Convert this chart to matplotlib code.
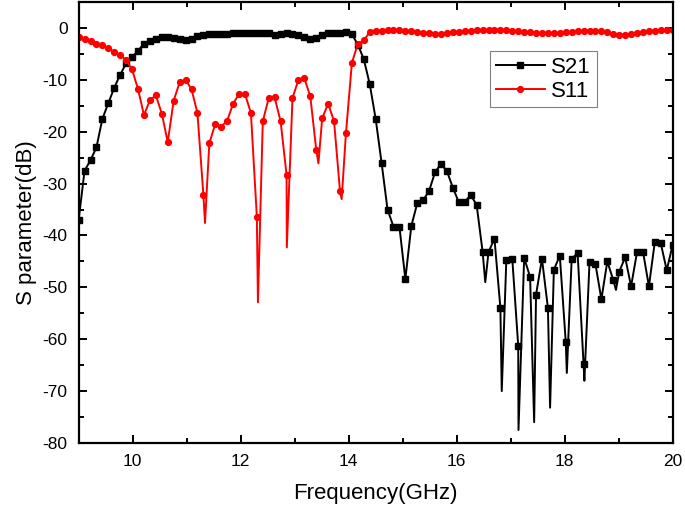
import numpy as np
import matplotlib
matplotlib.use('Agg')
import matplotlib.pyplot as plt
from matplotlib.ticker import MultipleLocator

plt.rcParams['font.family'] = ['Liberation Sans', 'DejaVu Sans']
plt.rcParams['axes.unicode_minus'] = False

# frequency of each measured point (GHz)
freq = np.round(np.linspace(9, 20, 101), 2)

s21 = [-37, -27.5, -25.5, -23, -17.5, -14.5, -11.5, -9, -6.8, -5.6,
       -4.4, -3, -2.6, -2.2, -1.8, -1.7, -1.9, -2.1, -2.3, -2.2,
       -1.6, -1.3, -1.2, -1.2, -1.1, -1.1, -1.0, -1.0, -0.9, -0.9,
       -0.9, -0.9, -1.0, -1.3, -1.2, -0.9, -1.1, -1.4, -1.8, -2.2,
       -1.9, -1.3, -1.0, -1.0, -0.9, -0.7, -1.2, -3.2, -6, -10.8,
       -17.5, -26, -35, -38.3, -38.3, -48.4, -38.2, -33.8, -33.2, -31.4,
       -27.8, -26.2, -27.6, -30.8, -33.6, -33.5, -32.2, -34.1, -43.1, -43.2,
       -40.6, -54, -44.7, -44.5, -61.3, -44.3, -48, -51.4, -44.5, -54,
       -46.6, -43.9, -60.5, -44.5, -43.4, -64.8, -45.2, -45.5, -52.3, -45,
       -48.6, -47, -44.2, -49.8, -43.2, -43.1, -49.8, -41.2, -41.5, -46.7,
       -41.8]

s11 = [-1.7, -2.2, -2.6, -3.0, -3.3, -3.9, -4.6, -5.2, -6.2, -8.0,
       -11.8, -16.8, -13.9, -13.0, -16.5, -22.0, -14.0, -10.5, -10.0, -11.8,
       -16.4, -32.2, -22.2, -18.5, -19.0, -17.9, -14.6, -12.7, -12.7, -16.4,
       -36.4, -18.0, -13.5, -13.4, -18.0, -28.3, -13.5, -10.0, -9.7, -13.2,
       -23.5, -17.4, -14.6, -18.0, -31.5, -20.3, -6.7, -3.1, -2.4, -0.8,
       -0.6, -0.5, -0.45, -0.4, -0.4, -0.5, -0.6, -0.8, -0.9, -1.0,
       -1.1, -1.2, -1.0, -0.8, -0.7, -0.6, -0.5, -0.45, -0.4, -0.35,
       -0.3, -0.35, -0.4, -0.5, -0.6, -0.7, -0.8, -0.9, -1.0, -1.0,
       -1.0, -0.9, -0.8, -0.7, -0.6, -0.55, -0.5, -0.5, -0.6, -0.8,
       -1.1, -1.3, -1.3, -1.1, -0.9, -0.7, -0.6, -0.5, -0.4, -0.3,
       -0.3]

# sharp resonance minima that fall between the measured markers
s21_dip_f = [16.53, 16.835, 17.145, 17.435, 17.73, 18.04, 18.365, 18.95]
s21_dip_v = [-49, -70, -77.5, -76, -73.2, -66.5, -68, -50.5]
s11_dip_f = [11.34, 12.32, 12.855, 13.44, 13.87]
s11_dip_v = [-37.6, -52.9, -42.3, -26.1, -33]


# put the dip points into the line, but only mark the measured points
def merge(f, v, df, dv):
    allf = np.concatenate([f, df])
    allv = np.concatenate([v, dv])
    is_marker = np.concatenate([np.ones(len(f), bool), np.zeros(len(df), bool)])
    order = np.argsort(allf, kind='stable')
    return allf[order], allv[order], list(np.where(is_marker[order])[0])


fig = plt.figure(figsize=(6.85, 5.13), dpi=100)
ax = fig.add_axes([0.1148, 0.1365, 0.8672, 0.8595])

f21, v21, m21 = merge(freq, s21, s21_dip_f, s21_dip_v)
f11, v11, m11 = merge(freq, s11, s11_dip_f, s11_dip_v)

ax.plot(f21, v21, color='black', lw=1.4, marker='s', markersize=3.8,
        markevery=m21, label='S21')
ax.plot(f11, v11, color='red', lw=1.4, marker='o', markersize=4.2,
        markevery=m11, label='S11')

ax.set_xlim(9, 20)
ax.set_ylim(-80, 5)
ax.xaxis.set_major_locator(MultipleLocator(2))
ax.xaxis.set_minor_locator(MultipleLocator(1))
ax.yaxis.set_major_locator(MultipleLocator(10))
ax.yaxis.set_minor_locator(MultipleLocator(5))
ax.tick_params(which='both', direction='in', top=True, right=True,
               labelsize=12.5, width=1.4)
ax.tick_params(which='major', length=6, pad=8)
ax.tick_params(which='minor', length=3.5)
for sp in ax.spines.values():
    sp.set_linewidth(1.6)

ax.set_xlabel('Frequency(GHz)', fontsize=16, labelpad=10)
ax.set_ylabel('S parameter(dB)', fontsize=16, labelpad=4)

leg = ax.legend(loc='upper left', bbox_to_anchor=(0.693, 0.889), fontsize=16,
                fancybox=False, edgecolor='0.5', framealpha=1,
                handlelength=2.2, borderpad=0.25, labelspacing=0.15,
                handletextpad=0.3, borderaxespad=0)
leg.get_frame().set_linewidth(0.8)

fig.savefig('out.png', dpi=100)
